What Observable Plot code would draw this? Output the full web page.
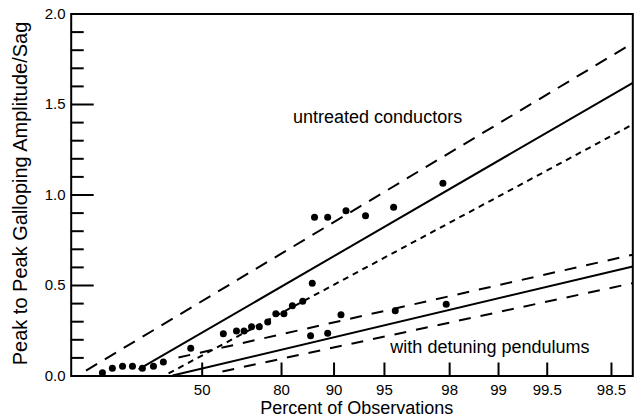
<!DOCTYPE html>
<html><head><meta charset="utf-8">
<script src="https://cdn.jsdelivr.net/npm/d3@7"></script>
<script src="https://cdn.jsdelivr.net/npm/@observablehq/plot@0.6"></script>
<style>body{margin:0;background:#fff}</style>
</head><body><div id="chart"></div>
<script>
// ---- data ----
const xTickValues = [50, 80, 90, 95, 98, 99, 99.5, 99.8];
const xTickLabels = ["50", "80", "90", "95", "98", "99", "99.5", "98.5"];
const yMajorTicks = [0, 0.5, 1, 1.5, 2];
const yMajorLabels = ["0.0", "0.5", "1.0", "1.5", "2.0"];
const yMinorTicks = [0.1,0.2,0.3,0.4,0.6,0.7,0.8,0.9,1.1,1.2,1.3,1.4,1.6,1.7,1.8,1.9];
const xDomainPct = [1.107, 99.8525];

const untreatedPct = [5.6, 8.2, 11.5, 15.3, 19.6, 24.9, 29.9, 59.9, 65.4, 68.3, 71.0, 73.6, 76.2, 78.5, 80.6, 82.6, 84.8, 86.6, 87.0, 89.1, 91.5, 93.5, 95.6, 97.8];
const untreatedVal = [0.018, 0.043, 0.054, 0.054, 0.043, 0.054, 0.078, 0.233, 0.248, 0.248, 0.272, 0.272, 0.299, 0.344, 0.344, 0.388, 0.413, 0.513, 0.877, 0.877, 0.913, 0.885, 0.933, 1.065];
const detunedPct = [44.2, 86.3, 89.1, 90.9, 95.7, 97.9];
const detunedVal = [0.154, 0.222, 0.236, 0.338, 0.360, 0.397];

const lineSeries   = ["untreated fit", "untreated upper", "untreated lower", "detuned fit", "detuned upper", "detuned lower"];
const lineStartPct = [17.9, 2.61, 32.6, 34.7, 37.8, 59.5];
const lineStartVal = [0.036, 0.030, 0.014, 0.003, 0.102, 0.025];
const lineEndPct   = [99.8525, 99.8525, 99.8525, 99.8525, 99.8525, 99.8525];
const lineEndVal   = [1.620, 1.839, 1.390, 0.605, 0.670, 0.513];

const annotationText = ["untreated conductors", "with detuning pendulums"];
const annotationPct = [94.5, 98.87];
const annotationVal = [1.428, 0.157];

// ---- helpers ----
const gumbel = p => -Math.log(-Math.log(p / 100));
const font = "'Liberation Sans', Arial, Helvetica, sans-serif";
const dashes = {
  "untreated fit": null, "detuned fit": null,
  "untreated upper": "13,9", "detuned upper": "12,10", "detuned lower": "12,10",
  "untreated lower": "6,5"
};

const points = [
  ...untreatedPct.map((p, i) => ({p, v: untreatedVal[i]})),
  ...detunedPct.map((p, i) => ({p, v: detunedVal[i]}))
];
const lineMarks = lineSeries.map((s, i) => Plot.line(
  [{p: lineStartPct[i], v: lineStartVal[i]}, {p: lineEndPct[i], v: lineEndVal[i]}],
  {x: d => gumbel(d.p), y: "v", stroke: "#000", strokeWidth: 2,
   strokeDasharray: dashes[s] || undefined, strokeLinecap: "butt"}
));
const annotations = annotationText.map((t, i) => ({t, p: annotationPct[i], v: annotationVal[i]}));

const xTicksU = xTickValues.map(gumbel);
const xLabelOf = new Map(xTicksU.map((u, i) => [u, xTickLabels[i]]));
const yLabelOf = new Map(yMajorTicks.map((v, i) => [v, yMajorLabels[i]]));

const chart = Plot.plot({
  width: 637,
  height: 417,
  marginLeft: 70.7,
  marginRight: 4.7,
  marginTop: 13.5,
  marginBottom: 41.5,
  style: {fontFamily: font, fontSize: "15px", color: "#000", background: "#fff", overflow: "visible"},
  x: {type: "linear", domain: xDomainPct.map(gumbel)},
  y: {domain: [0, 2]},
  marks: [
    Plot.axisY(yMinorTicks, {tickSize: -13, tickFormat: () => "", label: null, strokeWidth: 2}),
    Plot.axisY(yMajorTicks, {tickSize: -23, tickPadding: 28.7, tickFormat: d => yLabelOf.get(d), label: null, strokeWidth: 2, fontSize: 15}),
    Plot.axisX(xTicksU, {tickSize: -13, tickPadding: 21, tickFormat: d => xLabelOf.get(d), label: null, strokeWidth: 2, fontSize: 15}),
    ...lineMarks,
    Plot.dot(points, {x: d => gumbel(d.p), y: "v", r: 3.5, fill: "#000", stroke: "none"}),
    Plot.text(annotations, {x: d => gumbel(d.p), y: "v", text: "t", fontSize: 18, fill: "#000"}),
    Plot.text(["Peak to Peak Galloping Amplitude/Sag"], {frameAnchor: "left", textAnchor: "middle", lineAnchor: "middle", rotate: -90, dx: -50.2, dy: -1.5, fontSize: 20, fill: "#000"}),
    Plot.text(["Percent of Observations"], {frameAnchor: "bottom", textAnchor: "middle", lineAnchor: "bottom", dy: 38, dx: 4.8, fontSize: 18, fill: "#000"}),
    Plot.frame({stroke: "#000", strokeWidth: 2})
  ]
});
document.getElementById("chart").appendChild(chart);
</script>
</body></html>
